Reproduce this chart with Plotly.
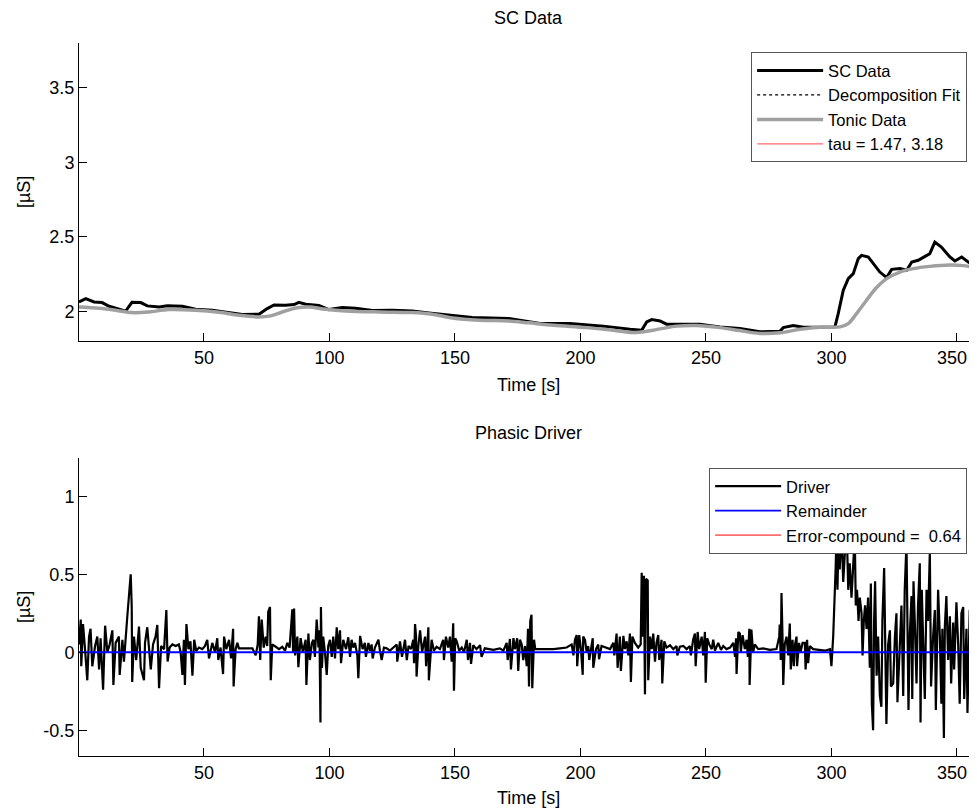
import plotly.graph_objects as go

# --- datos ---
sc_time = [0.2, 2.9, 6.2, 9.4, 12.2, 18.8, 20.0, 21.3, 24.8, 27.4, 32.1, 35.4, 41.4, 46.7, 53.3, 60.0,
           65.3, 71.9, 75.2, 77.9, 82.5, 85.9, 87.8, 90.5, 95.8, 99.8, 105.1, 110.4, 117.1, 125.0, 133.0,
           139.6, 147.6, 156.9, 171.5, 175.9, 179.5, 183.9, 195.8, 209.1, 219.7, 224.4, 226.4, 228.4,
           231.7, 234.3, 239.6, 247.6, 255.6, 263.5, 271.5, 279.5, 280.8, 284.8, 288.8, 295.4, 301.4,
           302.7, 304.7, 306.7, 308.7, 310.7, 312.0, 314.7, 316.7, 319.3, 322.0, 324.0, 327.3, 330.0,
           332.0, 334.6, 337.3, 339.2, 341.2, 343.8, 347.2, 349.2, 351.9, 354.5, 357.9]
sc_data = [2.062, 2.085, 2.062, 2.058, 2.033, 2.000, 2.030, 2.060, 2.058, 2.036, 2.029, 2.036, 2.033, 2.013,
           2.007, 1.993, 1.978, 1.980, 2.018, 2.042, 2.040, 2.045, 2.060, 2.047, 2.038, 2.011, 2.025, 2.020,
           2.005, 2.007, 2.002, 1.989, 1.975, 1.958, 1.951, 1.940, 1.930, 1.917, 1.917, 1.900, 1.879, 1.873,
           1.928, 1.944, 1.935, 1.913, 1.913, 1.913, 1.895, 1.884, 1.862, 1.866, 1.890, 1.904, 1.893, 1.895,
           1.895, 1.984, 2.140, 2.219, 2.252, 2.353, 2.375, 2.364, 2.319, 2.263, 2.226, 2.281, 2.286, 2.275,
           2.330, 2.342, 2.368, 2.386, 2.464, 2.431, 2.364, 2.337, 2.364, 2.330, 2.301]

tonic_time = [0.2, 8.2, 14.8, 21.3, 28.0, 35.9, 46.7, 56.0, 64.0, 71.9, 75.9, 81.2, 86.5, 91.8, 98.5, 106.4,
              119.7, 133.0, 141.0, 149.0, 159.6, 171.5, 179.5, 189.2, 202.5, 213.1, 221.0, 229.0, 238.3,
              246.2, 255.6, 263.5, 271.5, 279.5, 287.5, 295.4, 303.4, 306.7, 310.0, 314.0, 318.0, 322.0,
              327.3, 332.6, 339.2, 347.2, 352.5, 357.9]
tonic_data = [2.029, 2.020, 2.007, 1.991, 1.995, 2.011, 2.007, 1.993, 1.973, 1.962, 1.967, 1.995, 2.022,
              2.029, 2.013, 2.002, 1.995, 1.991, 1.980, 1.955, 1.940, 1.935, 1.922, 1.906, 1.890, 1.873,
              1.857, 1.873, 1.900, 1.904, 1.890, 1.870, 1.851, 1.855, 1.879, 1.893, 1.895, 1.917, 1.984,
              2.074, 2.159, 2.219, 2.263, 2.286, 2.301, 2.310, 2.306, 2.290]

driver_time = [
    0.2, 0.9, 1.1, 1.8, 2.6, 3.5, 4.2, 4.8, 5.5, 6.6, 7.5, 8.2, 8.8, 9.8, 10.6, 11.5, 12.4, 13.5, 13.9, 14.8,
    16.1, 16.4, 17.5, 18.1, 19.5, 20.1, 20.8, 21.2, 21.4, 22.1, 23.0, 24.1, 24.8, 26.1, 26.5, 27.4, 28.1,
    28.8, 29.7, 30.7, 31.4, 32.1, 32.9, 34.1, 35.0, 35.5, 36.3, 37.4, 38.7, 40.0, 40.7, 41.4, 42.0, 42.4,
    43.0, 43.8, 44.6, 45.4, 46.1, 46.9, 48.0, 49.3, 50.4, 51.3, 52.0, 53.3, 54.4, 55.3, 55.7, 56.6, 57.6,
    58.0, 58.9, 60.0, 60.8, 61.6, 61.8, 62.6, 63.3, 63.9, 66.6, 69.3, 70.6, 71.4, 71.9, 72.4, 73.0, 73.8,
    74.6, 75.2, 75.6, 76.3, 76.6, 77.2, 78.6, 79.9, 81.2, 82.3, 83.2, 84.1, 85.2, 85.5, 85.9, 86.3, 87.2,
    87.6, 88.5, 89.4, 90.5, 90.8, 91.6,
    92.2, 93.0, 93.6, 94.2, 94.9, 95.6, 96.0, 96.4, 96.6, 97.0, 97.5, 98.2, 98.9, 99.5, 100.2, 100.9, 101.5,
    102.2, 102.9, 103.5, 104.2, 104.6, 105.5, 106.6, 107.5, 108.2, 108.8, 109.5, 110.2, 111.1, 111.5, 112.2,
    113.2, 114.1, 114.5, 115.5, 116.1, 116.8, 117.2, 118.1, 119.5, 120.1, 120.8, 121.7, 122.8, 124.1, 125.4,
    126.8, 127.0, 128.1, 128.9, 130.1, 130.8, 131.5, 132.5, 133.4, 133.7, 134.1, 134.5, 134.7, 135.4, 136.1,
    136.9, 138.1, 138.5, 139.0, 139.4, 139.6, 140.7, 141.6, 142.7, 144.0, 145.3, 145.6, 146.4, 147.3, 148.0,
    148.7, 149.3, 149.6, 150.1, 150.7, 151.7, 152.7, 153.6, 154.7, 155.2, 156.0, 156.4, 157.3, 158.6, 160.0,
    160.6, 161.9, 163.3, 165.3, 167.9, 169.3, 170.6, 171.0, 171.9, 172.3, 173.3, 173.9, 174.8, 175.2, 175.9,
    176.6,
    177.2, 177.9, 178.6, 179.1, 179.5, 180.0, 180.5, 180.8, 181.5, 182.0, 183.9, 186.5, 189.2, 191.8, 194.5,
    196.5, 197.2, 197.8, 198.5, 198.7, 199.5, 200.2, 200.9, 201.1, 201.8, 202.5, 203.1, 203.5, 204.1, 204.9,
    205.1, 206.2, 207.1, 207.4, 208.4, 210.4, 211.8, 213.1, 213.5, 214.4, 214.8, 215.7, 216.1, 217.1, 217.7,
    218.4, 219.1, 219.7, 220.1, 220.7, 221.7, 223.0, 224.0, 224.4, 224.8, 225.3, 225.7, 226.1, 226.8, 227.0,
    227.7, 228.4, 229.0, 229.7, 230.3, 231.0, 231.4, 232.3, 232.6, 233.4, 234.3, 235.7, 237.0, 238.3, 238.6,
    239.6, 241.0, 242.3, 243.6, 244.0, 244.9, 245.6, 245.9, 246.7, 247.3, 248.3, 248.9, 249.6, 249.9, 250.5,
    251.3, 252.3, 252.9, 253.6, 254.9, 256.0, 256.9, 258.2, 259.6, 260.9, 261.6, 262.0, 262.2, 262.9, 263.5,
    263.9, 264.6, 265.5, 266.2, 266.7, 267.3, 267.4,
    268.1, 268.8, 269.5, 270.8, 272.8, 275.5, 278.1, 279.2, 279.4, 279.8, 280.1, 280.5, 280.8, 281.4, 282.1,
    282.8, 283.4, 283.8, 284.5, 285.0, 285.5, 286.1, 286.3, 287.1, 287.7, 288.5, 289.4, 289.7, 290.3, 290.7,
    291.4, 292.7, 294.7, 297.4, 299.4, 300.0, 300.7, 301.2, 301.7, 302.0, 302.4, 302.9, 303.3, 304.0, 304.7,
    305.3, 306.0, 306.7, 307.3, 308.0, 308.7, 309.3, 309.7, 310.2, 310.8, 311.3, 312.0, 312.4, 312.9, 313.4,
    314.0, 314.6, 315.3, 315.7, 316.1, 316.6, 317.0, 317.4, 318.0, 318.6, 319.3, 319.9, 320.3, 321.0, 321.4,
    321.9, 322.6, 323.3, 323.7, 324.6, 325.3, 325.9, 326.3, 327.2, 327.9, 328.6, 329.2, 329.9, 330.3, 330.7,
    331.2, 331.9, 332.2, 332.7, 333.2, 333.9, 334.5, 335.2, 335.5, 336.0, 336.5, 337.2, 337.9, 338.5, 339.2,
    339.7, 340.5, 341.2, 341.6, 342.5, 343.2, 343.8, 344.2, 344.8, 345.2, 345.8, 346.5, 347.2, 347.7, 348.5,
    348.9, 349.8, 350.5, 351.1, 351.8, 352.5, 352.9, 353.8, 354.2, 355.1, 356.1, 356.5, 357.1, 357.9]
driver_data = [
    0.05, 0.21, -0.09, 0.18, 0.02, -0.18, 0.10, 0.15, -0.09, 0.04, 0.10, -0.11, 0.09, -0.24, 0.17, 0.0, 0.05,
    0.14, -0.21, 0.06, 0.10, -0.145, 0.08, -0.06, 0.24, 0.36, 0.50, 0.30, -0.19, 0.10, -0.05, 0.165, -0.10,
    -0.18, 0.06, 0.16, 0.02, -0.11, 0.05, 0.10, 0.175, -0.23, 0.04, 0.02, 0.27, -0.06, 0.03, 0.05, 0.04, 0.05,
    0.0, -0.145, 0.08, -0.21, 0.18, 0.02, 0.07, -0.15, 0.08, 0.01, 0.03, 0.02, 0.04, 0.08, -0.04, 0.06, 0.0,
    0.09, -0.05, 0.03, -0.14, 0.10, 0.02, 0.08, -0.04, 0.15, -0.22, 0.02, 0.06, 0.025, 0.025, 0.025, -0.02,
    0.05, 0.23, -0.05, 0.21, 0.03, 0.10, 0.04, 0.26, 0.29, -0.18, 0.05, 0.035, 0.02, 0.035, 0.01, 0.06, 0.03,
    0.275, 0.0, 0.28, -0.02, 0.10, -0.096, 0.09, 0.0, 0.08, -0.21, 0.12,
    -0.05, 0.06, 0.08, -0.03, 0.21, 0.03, 0.14, -0.45, 0.29, -0.10, 0.10, 0.0, -0.145, 0.04, 0.08, -0.03,
    0.10, -0.04, 0.16, 0.02, 0.14, -0.07, 0.08, 0.02, 0.096, -0.03, 0.08, 0.03, 0.06, -0.02, -0.167, 0.105,
    0.02, 0.06, -0.03, 0.06, 0.01, 0.05, -0.04, 0.03, 0.08, 0.01, -0.05, 0.03, 0.025, 0.01, 0.03, 0.05, -0.06,
    0.07, -0.03, 0.08, -0.05, 0.04, 0.02, 0.08, -0.07, 0.18, 0.10, -0.156, 0.04, 0.14, 0.0, 0.10, -0.09, 0.06,
    0.16, -0.18, 0.08, 0.01, 0.035, 0.02, 0.08, -0.05, 0.10, 0.03, 0.10, -0.06, 0.186, -0.246, 0.09, 0.07,
    0.01, 0.03, 0.0, 0.08, -0.05, 0.06, -0.075, 0.045, 0.02, 0.045, -0.03, 0.025, 0.02, 0.015, 0.025, 0.01,
    0.06, -0.05, 0.085, -0.11, 0.09, 0.02, 0.09, -0.12, 0.08, 0.05,
    -0.05, 0.04, -0.09, 0.15, -0.22, 0.20, 0.24, -0.23, 0.08, 0.02, 0.02, 0.02, 0.02, 0.025, 0.03, 0.05,
    -0.02, 0.08, 0.11, -0.09, 0.11, 0.02, -0.145, 0.10, 0.08, 0.0, 0.04, -0.05, 0.02, 0.09, -0.10, 0.02, 0.05,
    -0.045, 0.04, 0.03, 0.02, 0.06, -0.02, 0.12, -0.10, 0.10, -0.12, 0.105, 0.02, 0.07, -0.02, 0.12, -0.19,
    0.10, 0.06, 0.03, 0.05, 0.51, 0.10, 0.49, -0.27, 0.47, 0.46, -0.18, 0.10, 0.02, 0.12, -0.06, 0.06, 0.11,
    -0.05, 0.08, -0.20, 0.07, 0.03, 0.045, 0.02, 0.04, -0.02, 0.035, 0.04, 0.02, 0.04, -0.02, 0.08, 0.12,
    -0.09, 0.13, 0.02, 0.10, -0.02, 0.13, -0.195, 0.09, 0.05, 0.02, 0.08, 0.01, 0.06, 0.015, 0.04, 0.02, 0.03,
    0.06, -0.03, 0.09, -0.14, 0.13, 0.12, 0.0, 0.11, 0.02, 0.08, -0.03, 0.15, -0.21,
    0.145, 0.0, 0.05, 0.02, 0.025, 0.015, 0.02, 0.10, 0.177, -0.05, 0.38, 0.10, -0.21, 0.05, 0.10, -0.02,
    0.184, -0.11, 0.08, -0.09, 0.05, 0.10, -0.09, 0.06, 0.0, 0.06, 0.06, -0.11, 0.08, -0.07, 0.04, 0.02,
    0.015, 0.01, 0.02, -0.09, 0.10, 0.30, 0.55, 0.75, 0.40, 0.80, 0.53, 0.80, 0.45, 0.62, 0.85, 0.40, 0.57,
    0.35, 0.55, 0.75, 0.30, 0.40, 0.20, 0.35, 0.25, -0.02, 0.20, 0.30, 0.15, 0.35, -0.10, 0.44, -0.33, -0.50,
    0.20, 0.455, -0.15, 0.10, -0.28, -0.35, 0.20, 0.54, 0.10, -0.46, 0.05, 0.14, -0.22, -0.20, 0.10, 0.25,
    -0.32, 0.0, 0.30, -0.28, 0.40, 0.70, 0.20, -0.37, 0.10, 0.36, -0.30, 0.455, 0.20, -0.20, 0.30, 0.57,
    -0.45, 0.40, 0.10, -0.30, 0.40, 0.20, 0.64, -0.22, 0.10, 0.27, -0.37, 0.40, 0.10, -0.33, 0.15, -0.55,
    0.17, 0.36, -0.05, 0.23, -0.20, 0.19, -0.11, 0.32, 0.05, -0.33, 0.25, 0.29, -0.30, 0.15, -0.39, 0.27,
    0.14, -0.22, -0.39, 0.25]

remainder_time = [0.2, 358]
remainder_data = [0.0, 0.0]

y_ticks_sc = [2, 2.5, 3, 3.5]
y_ticks_driver = [-0.5, 0, 0.5, 1]
y_labels_driver = ["-0.5", "0", "0.5", "1"]
x_ticks = [50, 100, 150, 200, 250, 300, 350]
# la última etiqueta lleva un espacio para que no quede cortada en el borde
x_labels = ["50", "100", "150", "200", "250", "300", "350\u2007"]

FONT = "Liberation Sans, Arial, sans-serif"

fig = go.Figure()

# Panel superior
fig.add_trace(go.Scatter(x=sc_time, y=sc_data, name="SC Data", mode="lines",
                         line=dict(color="black", width=3), xaxis="x", yaxis="y", legend="legend"))
fig.add_trace(go.Scatter(x=sc_time, y=sc_data, name="Decomposition Fit", mode="lines",
                         line=dict(color="black", width=1.2, dash="dot"), xaxis="x", yaxis="y", legend="legend"))
fig.add_trace(go.Scatter(x=tonic_time, y=tonic_data, name="Tonic Data", mode="lines", line_shape="spline",
                         line=dict(color="#a0a0a0", width=3.5), xaxis="x", yaxis="y", legend="legend"))
fig.add_trace(go.Scatter(x=[None], y=[None], name="tau = 1.47, 3.18", mode="lines",
                         line=dict(color="#ff6a6a", width=1.2), xaxis="x", yaxis="y", legend="legend"))

# Panel inferior
fig.add_trace(go.Scatter(x=driver_time, y=driver_data, name="Driver", mode="lines",
                         line=dict(color="black", width=2.2), xaxis="x2", yaxis="y2", legend="legend2"))
fig.add_trace(go.Scatter(x=remainder_time, y=remainder_data, name="Remainder", mode="lines",
                         line=dict(color="#0000ff", width=1.8), xaxis="x2", yaxis="y2", legend="legend2"))
fig.add_trace(go.Scatter(x=[None], y=[None], name="Error-compound =  0.64", mode="lines",
                         line=dict(color="#ff0000", width=1), xaxis="x2", yaxis="y2", legend="legend2"))

axis_common = dict(showgrid=False, zeroline=False, showline=True, linecolor="black", linewidth=1,
                   ticks="inside", ticklen=8, tickcolor="black", tickwidth=1,
                   tickfont=dict(size=18, color="black", family=FONT), mirror=False)

legend_common = dict(bgcolor="white", bordercolor="#555555", borderwidth=1, xanchor="right", x=0.989,
                     yanchor="top", font=dict(size=16.5, color="black", family=FONT),
                     itemwidth=66, tracegroupgap=0)

# la página añade 8 px de margen al body: se compensa en el tamaño y los márgenes
fig.update_layout(
    width=969, height=804,
    margin=dict(l=71, r=0, t=35, b=56),
    paper_bgcolor="white", plot_bgcolor="white",
    font=dict(family=FONT, color="black"),
    xaxis=dict(domain=[0, 1], range=[0.2, 358], tickvals=x_ticks, ticktext=x_labels, anchor="y",
               **axis_common),
    yaxis=dict(domain=[0.582, 1.0], range=[1.8, 3.8], tickvals=y_ticks_sc, anchor="x", **axis_common),
    xaxis2=dict(domain=[0, 1], range=[0.2, 358], tickvals=x_ticks, ticktext=x_labels, anchor="y2",
                **axis_common),
    yaxis2=dict(domain=[0, 0.418], range=[-0.665, 1.245], tickvals=y_ticks_driver,
                ticktext=y_labels_driver, anchor="x2", **axis_common),
    legend=dict(y=0.987, **legend_common),
    legend2=dict(y=0.404, **legend_common),
    showlegend=True,
)

# Títulos y etiquetas al estilo MATLAB
ann = dict(xref="paper", yref="paper", showarrow=False, font=dict(size=18, color="black", family=FONT))
fig.add_annotation(text="SC Data", x=0.5, y=1.035, yanchor="middle", **ann)
fig.add_annotation(text="Phasic Driver", x=0.5, y=0.453, yanchor="middle", **ann)
fig.add_annotation(text="Time [s]", x=0.5, y=0.520, yanchor="middle", **ann)
fig.add_annotation(text="Time [s]", x=0.5, y=-0.059, yanchor="middle", **ann)
fig.add_annotation(text="[µS]", x=-0.0612, y=0.791, textangle=-90, xanchor="center", yanchor="middle", **ann)
fig.add_annotation(text="[µS]", x=-0.0612, y=0.209, textangle=-90, xanchor="center", yanchor="middle", **ann)

fig.write_html("out.html")
